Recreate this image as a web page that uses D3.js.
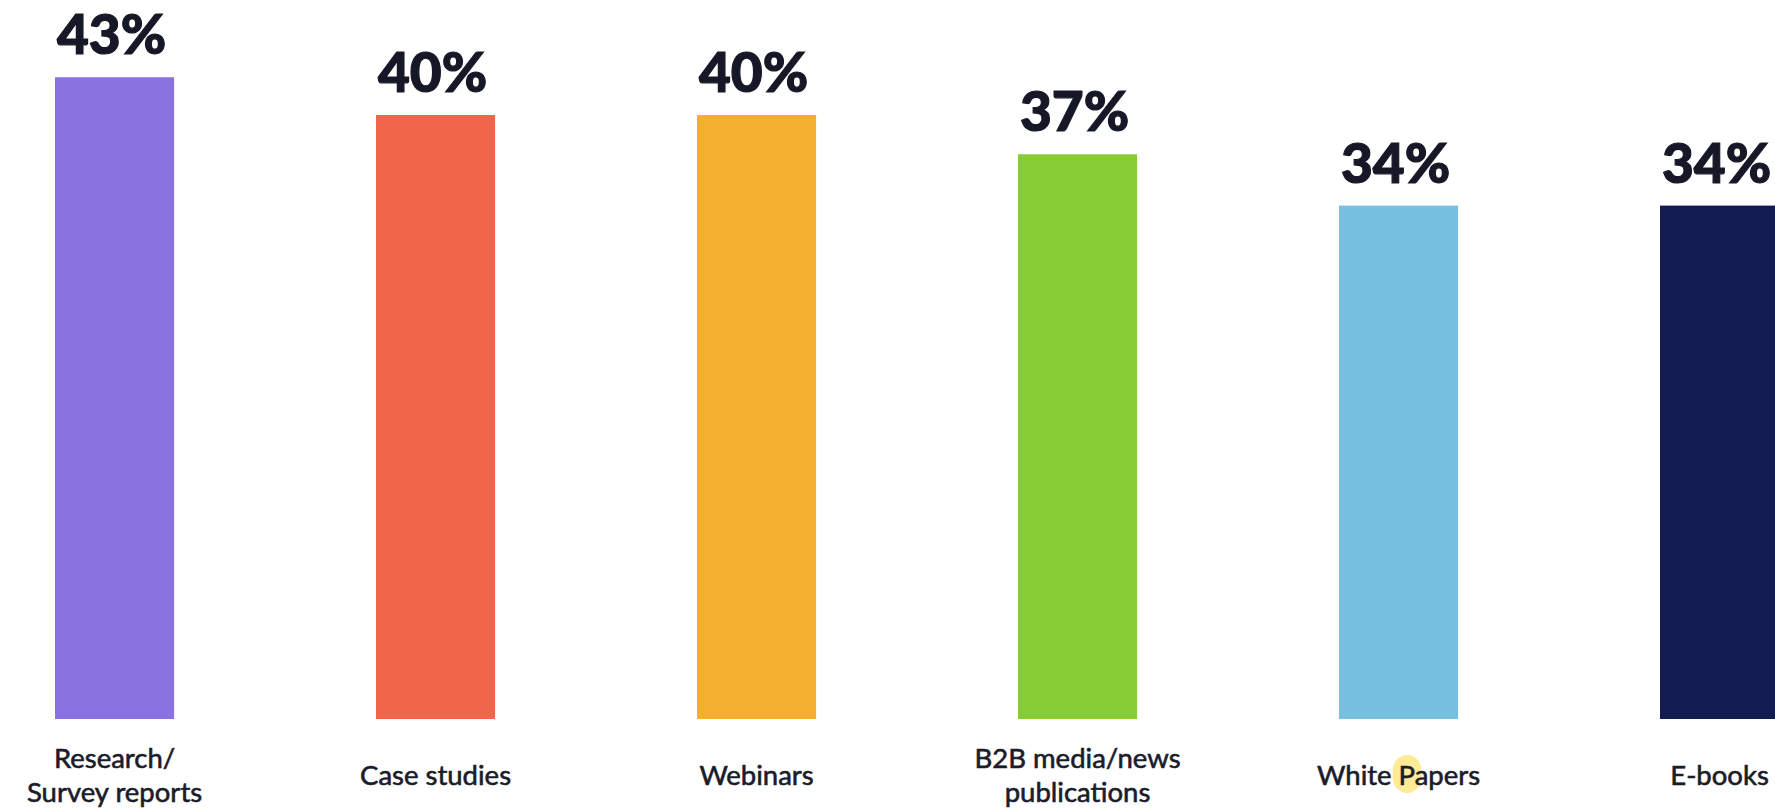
<!DOCTYPE html>
<html>
<head>
<meta charset="utf-8">
<script src="https://cdn.jsdelivr.net/npm/d3@7"></script>
<style>
  html, body { margin: 0; padding: 0; background: #fff; }
  svg { display: block; }
  .value { font-family: "Lato", sans-serif; font-weight: 900; font-size: 55px; fill: #161827; stroke: #161827; stroke-width: 1.2px; }
  .cat { font-family: "Lato", sans-serif; font-weight: 400; font-size: 27.5px; fill: #1b1c2a; stroke: #1b1c2a; stroke-width: 0.6px; }
</style>
</head>
<body>
<svg id="chart"></svg>
<script>
// content types, share of respondents (%)
var categories = ['Research/\nSurvey reports', 'Case studies', 'Webinars', 'B2B media/news\npublications', 'White Papers', 'E-books'];
var values     = [42.5, 40, 40, 37.4, 34, 34];
var colors     = ['#8a73e0', '#f1654b', '#f5af30', '#88cc35', '#78c0e0', '#121c50'];
var highlight  = { category: 'White Papers', charIndex: 6 };

var width = 1775,
    height = 809,
    baseY = 719;

var svg = d3.select('#chart')
    .attr('width', width)
    .attr('height', height);

var x = d3.scaleBand()
    .domain(categories)
    .range([55, 55 + 321 * (categories.length - 0.629)])
    .paddingInner(0.629)
    .paddingOuter(0);

var y = d3.scaleLinear()
    .domain([0, 100])
    .range([baseY, baseY - 1510]);

var bars = svg.append('g');

bars.selectAll('.bar')
    .data(values)
    .enter().append('rect')
    .attr('class', 'bar')
    .attr('x', function(d, i) { return x(categories[i]); })
    .attr('width', x.bandwidth())
    .attr('y', function(d) { return y(d); })
    .attr('height', function(d) { return baseY - y(d); })
    .attr('fill', function(d, i) { return colors[i]; });

// value labels above bars
bars.selectAll('.value')
    .data(values)
    .enter().append('text')
    .attr('class', 'value')
    .attr('text-anchor', 'middle')
    .attr('x', function(d, i) { return x(categories[i]) + x.bandwidth() / 2 - 3; })
    .attr('y', function(d) { return y(d) - 23; })
    .text(function(d) { return Math.round(d) + '%'; });

// category labels, two-line ones centred on the one-line baseline
var labelG = svg.append('g');
var hlLayer = labelG.append('g');

categories.forEach(function(c, i) {
    var lines = c.split('\n'),
        cx = x(c) + x.bandwidth() / 2,
        lineH = 34,
        y0 = 785 - (lines.length - 1) * lineH / 2;

    var t = labelG.append('text')
        .attr('class', 'cat')
        .attr('text-anchor', 'middle');

    lines.forEach(function(l, j) {
        t.append('tspan')
            .attr('x', cx)
            .attr('y', y0 + j * lineH)
            .text(l);
    });

    if (c === highlight.category) {
        var ext = t.node().getExtentOfChar(highlight.charIndex);
        var hx = ext.x + ext.width / 2;
        hlLayer.append('rect')
            .attr('x', hx - 14)
            .attr('y', y0 - 30)
            .attr('width', 29)
            .attr('height', 38)
            .attr('rx', 14)
            .attr('ry', 16)
            .attr('fill', '#ffeb96');
    }
});
</script>
</body>
</html>
